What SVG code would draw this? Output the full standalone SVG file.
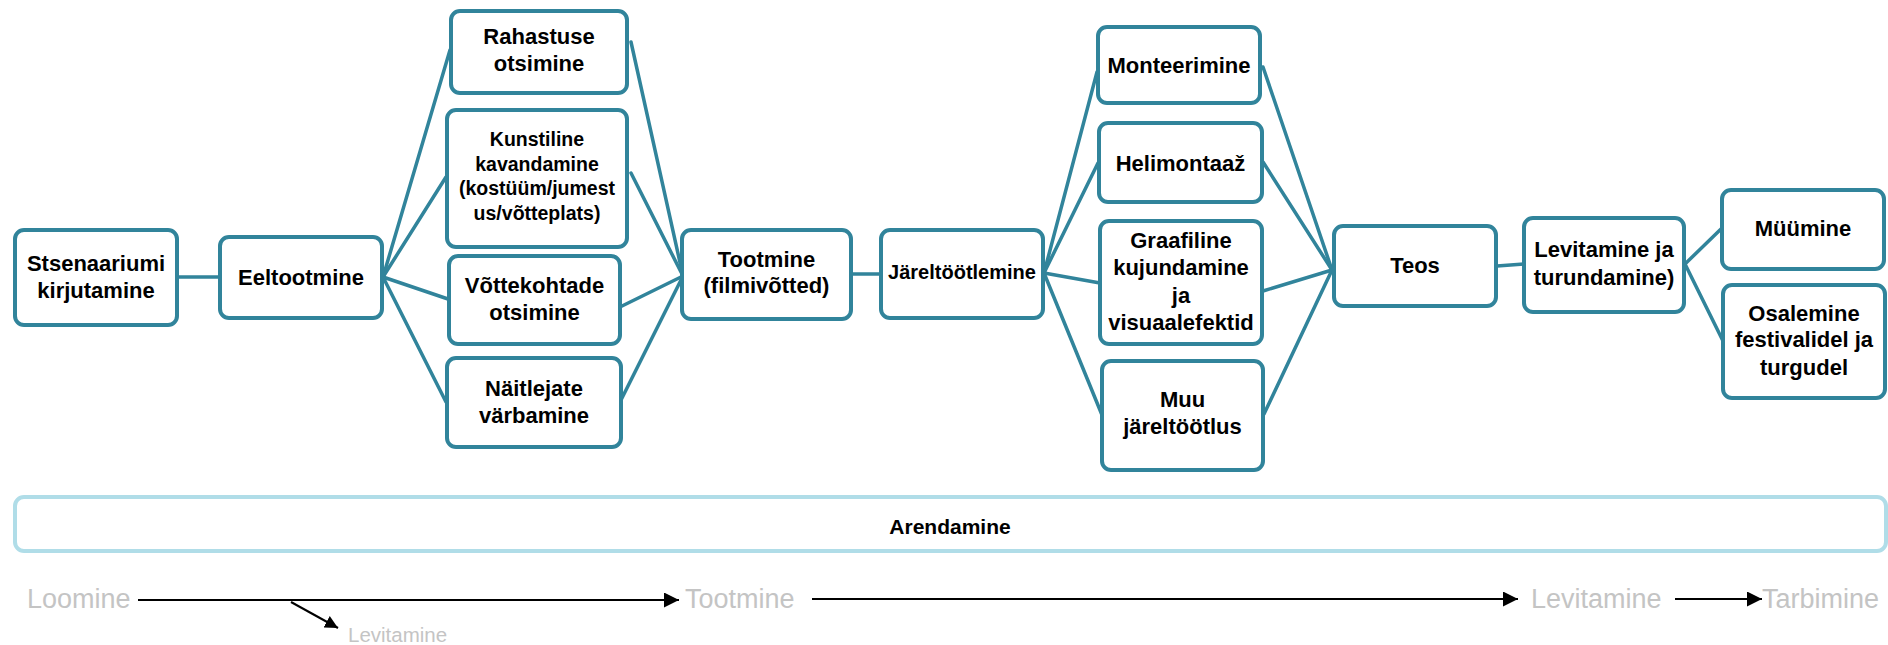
<svg xmlns="http://www.w3.org/2000/svg" width="1888" height="645" viewBox="0 0 1888 645">
<style>
.node rect{fill:#fff;stroke:#31849B;stroke-width:4}
.node text{font-family:"Liberation Sans",Arial,sans-serif;font-weight:bold;font-size:22px;fill:#000;text-anchor:middle}
.conn line{stroke:#31849B;stroke-width:3.5;stroke-linecap:round}
.band rect{fill:#fff;stroke:#B0DDE8;stroke-width:4}
.band text{font-family:"Liberation Sans",Arial,sans-serif;font-weight:bold;font-size:21px;fill:#000;text-anchor:middle}
.stage{font-family:"Liberation Sans",Arial,sans-serif;font-size:27px;fill:#C4C4C4}
.stage-s{font-family:"Liberation Sans",Arial,sans-serif;font-size:20.5px;fill:#C4C4C4}
.tl line{stroke:#000;stroke-width:2}
</style>
<defs>
<marker id="ah" markerUnits="userSpaceOnUse" markerWidth="15" markerHeight="15" refX="15" refY="7.5" orient="auto">
<path d="M0,0 L15,7.5 L0,15 z" fill="#000"/>
</marker>
<marker id="ahs" markerUnits="userSpaceOnUse" markerWidth="13" markerHeight="13" refX="13" refY="6.5" orient="auto">
<path d="M0,0 L13,6.5 L0,13 z" fill="#000"/>
</marker>
</defs>
<rect width="1888" height="645" fill="#fff"/>

<g id="connectors" class="conn">
<line x1="177" y1="277" x2="220" y2="277"/>
<line x1="383" y1="277" x2="450" y2="50"/>
<line x1="383" y1="277" x2="446" y2="177"/>
<line x1="383" y1="277" x2="448" y2="299"/>
<line x1="383" y1="277" x2="446" y2="402"/>
<line x1="631" y1="42" x2="683" y2="276"/>
<line x1="631" y1="173" x2="683" y2="276"/>
<line x1="620" y1="307" x2="683" y2="276"/>
<line x1="621" y1="400" x2="683" y2="276"/>
<line x1="851" y1="274" x2="881" y2="274"/>
<line x1="1044" y1="273" x2="1097" y2="72"/>
<line x1="1044" y1="273" x2="1098" y2="163"/>
<line x1="1044" y1="273" x2="1100" y2="283"/>
<line x1="1044" y1="273" x2="1102" y2="415"/>
<line x1="1263" y1="67" x2="1332" y2="270"/>
<line x1="1263" y1="162" x2="1332" y2="270"/>
<line x1="1263" y1="291" x2="1332" y2="270"/>
<line x1="1264" y1="414" x2="1332" y2="270"/>
<line x1="1497" y1="266" x2="1524" y2="264"/>
<line x1="1685" y1="264" x2="1721" y2="229"/>
<line x1="1685" y1="264" x2="1723" y2="341"/>
</g>

<g id="n1" class="node"><rect x="15" y="230" width="162" height="95" rx="9"/>
<text x="96" y="271">Stsenaariumi</text><text x="96" y="298">kirjutamine</text></g>
<g id="n2" class="node"><rect x="220" y="237" width="162" height="81" rx="9"/>
<text x="301" y="285">Eeltootmine</text></g>
<g id="n3" class="node"><rect x="451" y="11" width="176" height="82" rx="9"/>
<text x="539" y="44">Rahastuse</text><text x="539" y="71">otsimine</text></g>
<g id="n4" class="node"><rect x="447" y="110" width="180" height="137" rx="9"/>
<text x="537" y="146" style="font-size:19.5px">Kunstiline</text><text x="537" y="171" style="font-size:19.5px">kavandamine</text><text x="537" y="195" style="font-size:19.5px">(kostüüm/jumest</text><text x="537" y="220" style="font-size:19.5px">us/võtteplats)</text></g>
<g id="n5" class="node"><rect x="449" y="256" width="171" height="88" rx="9"/>
<text x="534.5" y="293">Võttekohtade</text><text x="534.5" y="320">otsimine</text></g>
<g id="n6" class="node"><rect x="447" y="358" width="174" height="89" rx="9"/>
<text x="534" y="396">Näitlejate</text><text x="534" y="423">värbamine</text></g>
<g id="n7" class="node"><rect x="682" y="230" width="169" height="89" rx="9"/>
<text x="766.5" y="267">Tootmine</text><text x="766.5" y="293">(filmivõtted)</text></g>
<g id="n8" class="node"><rect x="881" y="230" width="162" height="88" rx="9"/>
<text x="962" y="279" style="font-size:20px">Järeltöötlemine</text></g>
<g id="n9" class="node"><rect x="1098" y="27" width="162" height="76" rx="9"/>
<text x="1179" y="73">Monteerimine</text></g>
<g id="n10" class="node"><rect x="1099" y="123" width="163" height="79" rx="9"/>
<text x="1180.5" y="171">Helimontaaž</text></g>
<g id="n11" class="node"><rect x="1100" y="221" width="162" height="123" rx="9"/>
<text x="1181" y="248">Graafiline</text><text x="1181" y="275">kujundamine</text><text x="1181" y="303">ja</text><text x="1181" y="330">visuaalefektid</text></g>
<g id="n12" class="node"><rect x="1102" y="361" width="161" height="109" rx="9"/>
<text x="1182.5" y="407">Muu</text><text x="1182.5" y="434">järeltöötlus</text></g>
<g id="n13" class="node"><rect x="1334" y="226" width="162" height="80" rx="9"/>
<text x="1415" y="273">Teos</text></g>
<g id="n14" class="node"><rect x="1524" y="218" width="160" height="94" rx="9"/>
<text x="1604" y="257">Levitamine ja</text><text x="1604" y="285">turundamine)</text></g>
<g id="n15" class="node"><rect x="1722" y="190" width="162" height="79" rx="9"/>
<text x="1803" y="236">Müümine</text></g>
<g id="n16" class="node"><rect x="1723" y="285" width="162" height="113" rx="9"/>
<text x="1804" y="321">Osalemine</text><text x="1804" y="347">festivalidel ja</text><text x="1804" y="375">turgudel</text></g>

<g id="arendamine" class="band"><rect x="15" y="497" width="1871" height="54" rx="9"/>
<text x="950" y="534">Arendamine</text></g>

<g id="timeline">
<text class="stage" x="27" y="608">Loomine</text>
<text class="stage" x="685" y="608">Tootmine</text>
<text class="stage" x="1531" y="608">Levitamine</text>
<text class="stage" x="1762" y="608">Tarbimine</text>
<text class="stage-s" x="348" y="642">Levitamine</text>
<g class="tl">
<line x1="138" y1="600" x2="679" y2="600" marker-end="url(#ah)"/>
<line x1="812" y1="599" x2="1518" y2="599" marker-end="url(#ah)"/>
<line x1="1675" y1="599" x2="1762" y2="599" marker-end="url(#ah)"/>
<line x1="291" y1="602" x2="338" y2="628" marker-end="url(#ahs)"/>
</g>
</g>
</svg>
